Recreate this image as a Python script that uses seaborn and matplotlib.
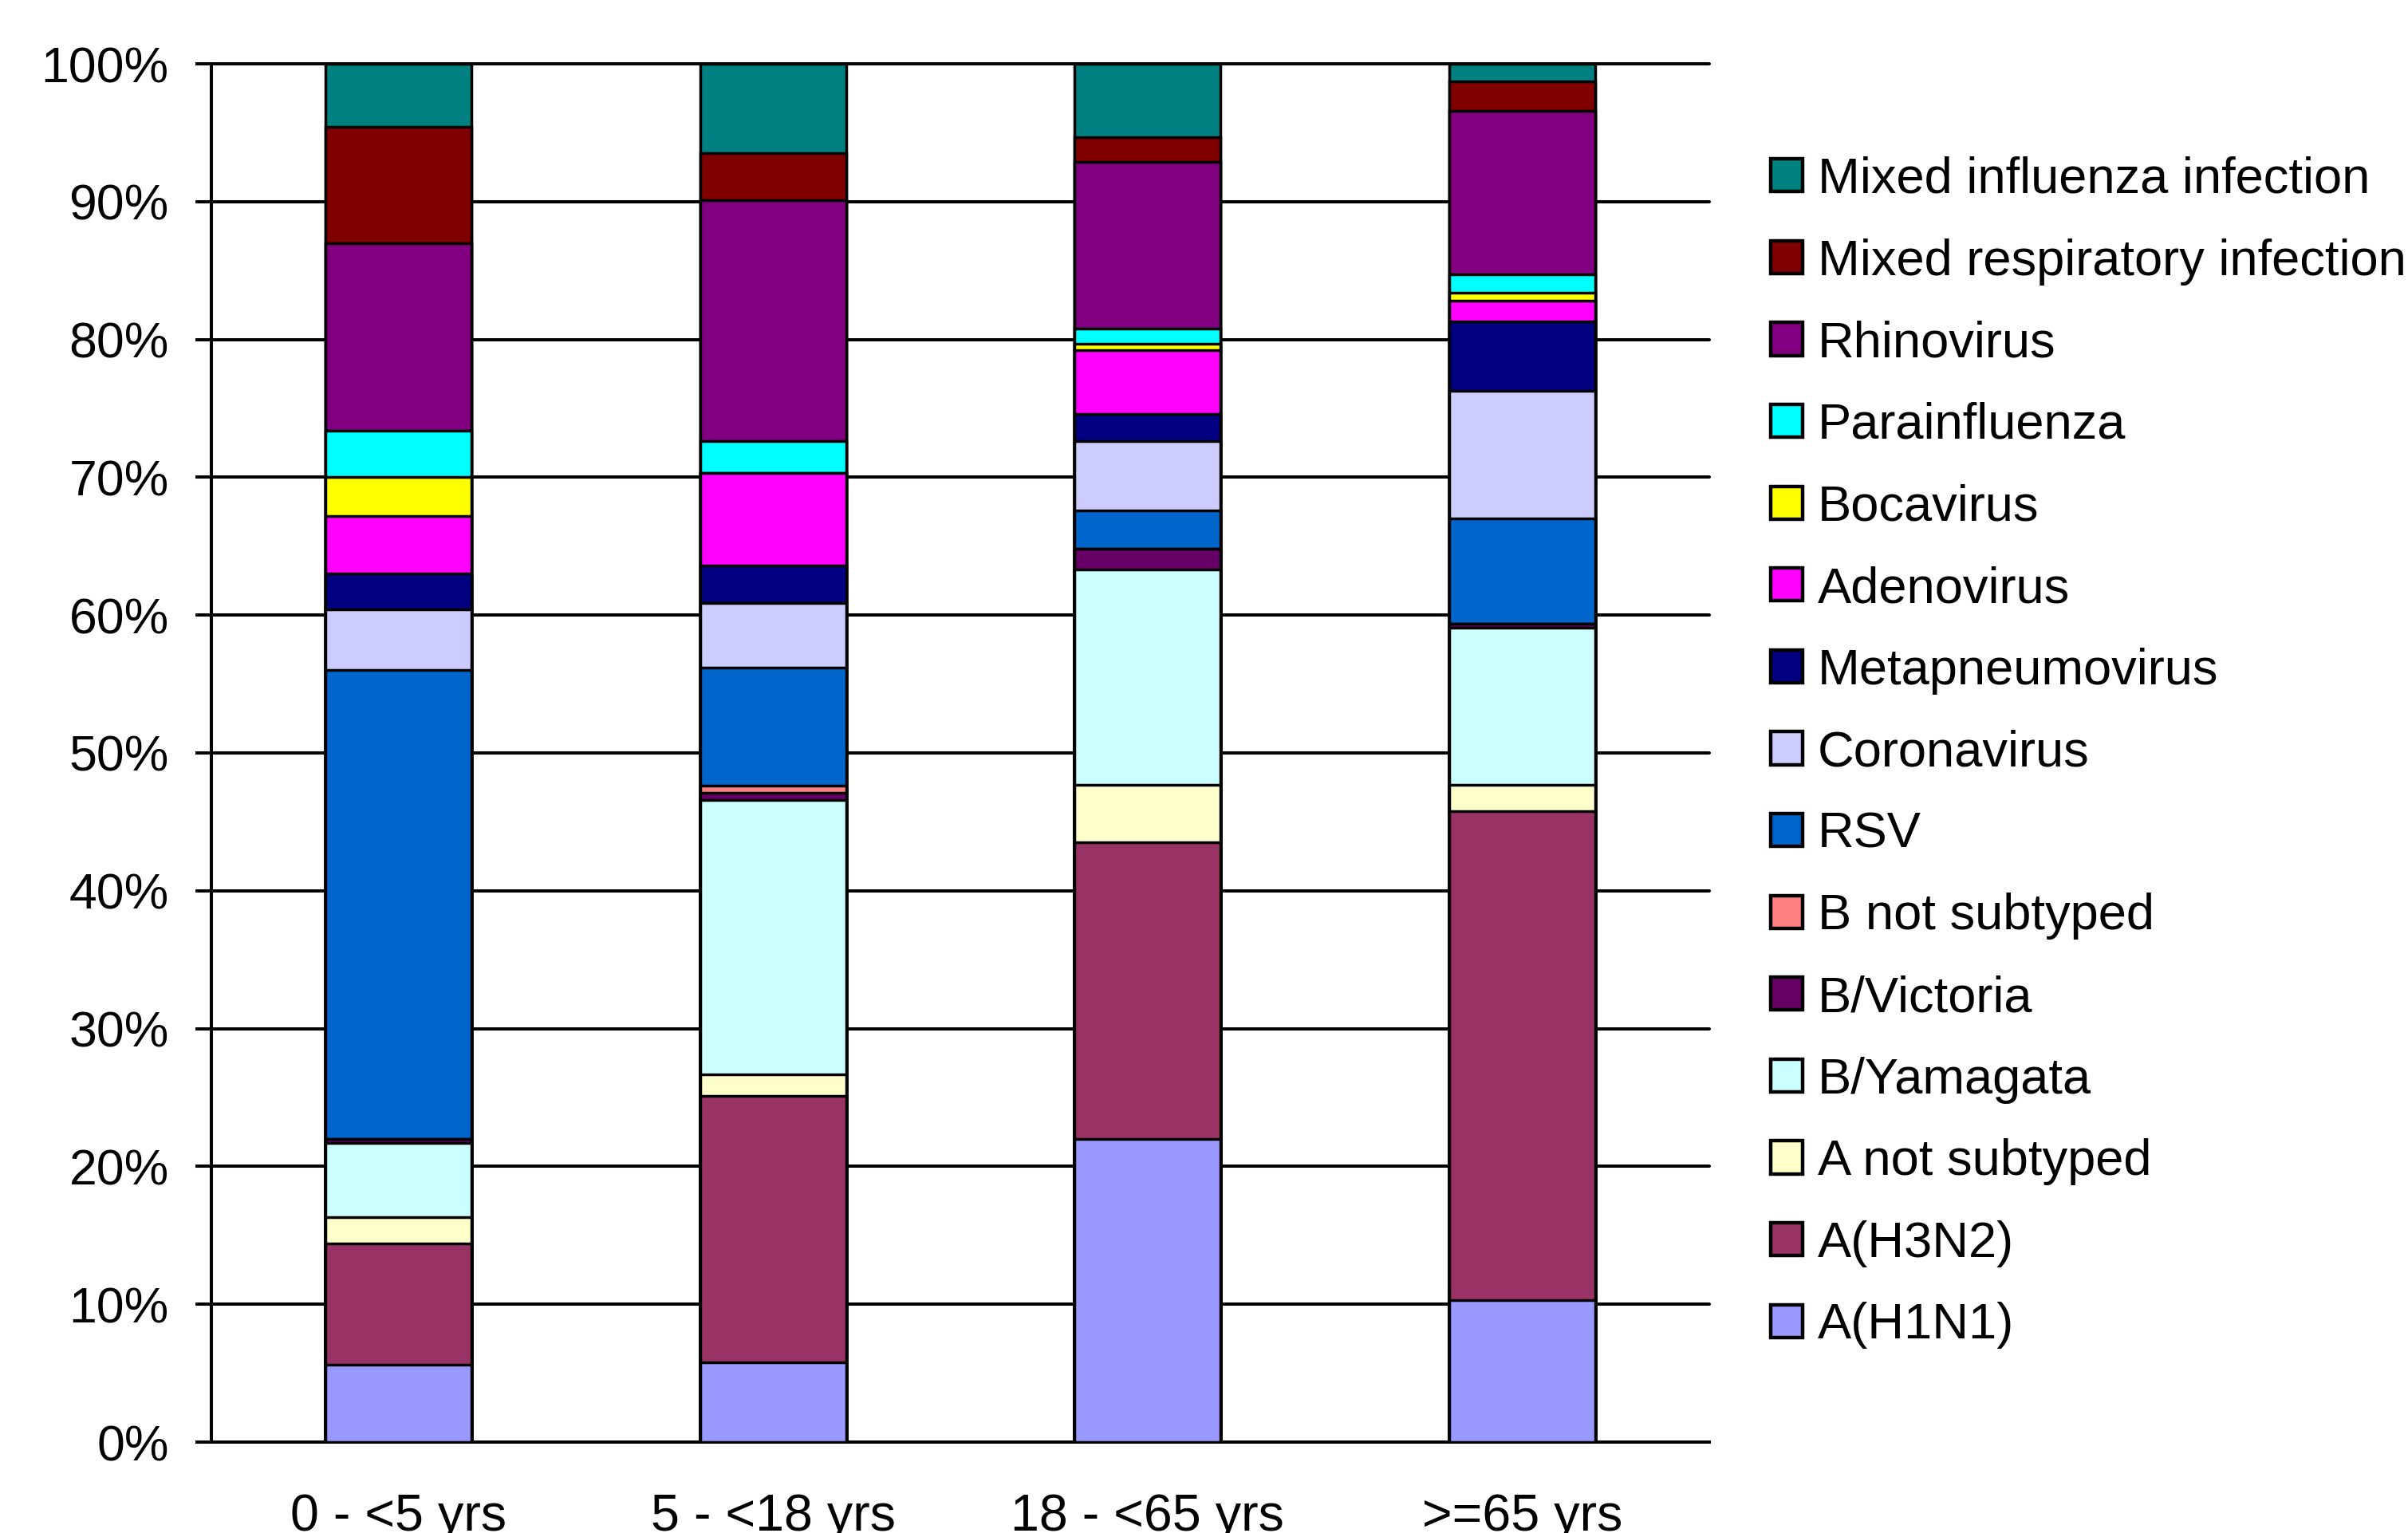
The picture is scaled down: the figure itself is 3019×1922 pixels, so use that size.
import matplotlib
matplotlib.use("Agg")
import matplotlib.pyplot as plt
from matplotlib.patches import Patch
import numpy as np
import pandas as pd
import seaborn as sns

# Age groups on the x axis
categories = ["0 - <5 yrs", "5 - <18 yrs", "18 - <65 yrs", ">=65 yrs"]

# Share of detections (%) per pathogen, stacked bottom to top
a_h1n1 = [5.6, 5.8, 22.0, 10.3]
a_h3n2 = [8.8, 19.3, 21.5, 35.5]
a_not_subtyped = [1.9, 1.6, 4.2, 1.9]
b_yamagata = [5.4, 19.9, 15.6, 11.4]
b_victoria = [0.3, 0.5, 1.5, 0.3]
b_not_subtyped = [0.0, 0.5, 0.0, 0.0]
rsv = [34.0, 8.6, 2.8, 7.6]
coronavirus = [4.4, 4.7, 5.0, 9.3]
metapneumovirus = [2.6, 2.7, 2.0, 5.0]
adenovirus = [4.2, 6.7, 4.6, 1.5]
bocavirus = [2.8, 0.0, 0.5, 0.6]
parainfluenza = [3.4, 2.3, 1.1, 1.3]
rhinovirus = [13.6, 17.5, 12.1, 11.9]
mixed_respiratory = [8.45, 3.4, 1.8, 2.1]
mixed_influenza = [4.55, 6.5, 5.3, 1.3]

series_names = ["A(H1N1)", "A(H3N2)", "A not subtyped", "B/Yamagata", "B/Victoria",
                "B not subtyped", "RSV", "Coronavirus", "Metapneumovirus", "Adenovirus",
                "Bocavirus", "Parainfluenza", "Rhinovirus", "Mixed respiratory infection",
                "Mixed influenza infection"]
series_values = [a_h1n1, a_h3n2, a_not_subtyped, b_yamagata, b_victoria, b_not_subtyped,
                 rsv, coronavirus, metapneumovirus, adenovirus, bocavirus, parainfluenza,
                 rhinovirus, mixed_respiratory, mixed_influenza]
series_colors = ["#9999FF", "#993366", "#FFFFCC", "#CCFFFF", "#660066", "#FF8080",
                 "#0066CC", "#CCCCFF", "#000080", "#FF00FF", "#FFFF00", "#00FFFF",
                 "#800080", "#800000", "#008080"]

ytick_values = list(range(0, 101, 10))
ytick_labels = [f"{v}%" for v in ytick_values]

sns.set_theme(style="white")
plt.rcParams["font.family"] = ["Liberation Sans", "DejaVu Sans"]
plt.rcParams["text.color"] = "black"
plt.rcParams["xtick.color"] = "black"
plt.rcParams["ytick.color"] = "black"

DPI = 100
fig = plt.figure(figsize=(30.19, 19.22), dpi=DPI)
ax = fig.add_axes([265 / 3019, 1 - 1808 / 1922, (2143 - 265) / 3019, (1808 - 80) / 1922])

df = pd.DataFrame({name: vals for name, vals in zip(series_names, series_values)},
                  index=categories)
cum = df.cumsum(axis=1)

# Draw cumulative totals from the top layer down so each lower layer covers the one above
for name, color in zip(reversed(series_names), reversed(series_colors)):
    sns.barplot(x=categories, y=cum[name].values, color=color, saturation=1,
                width=0.39, edgecolor="black", linewidth=2.5, errorbar=None,
                ax=ax, zorder=3)

LW = 2.9
ax.set_xlim(-0.5, 3.5)
ax.set_ylim(0, 100)
ax.set_yticks(ytick_values)
ax.set_yticklabels(ytick_labels, fontsize=45, color="black")
ax.yaxis.grid(True, color="black", linewidth=LW)
ax.xaxis.grid(False)
for gl in ax.get_ygridlines():
    gl.set_clip_on(False)
ax.set_axisbelow(True)

ax.set_xticks(range(len(categories)))
ax.set_xticklabels(categories, fontsize=46.5, color="black")
ax.set_xticks(np.arange(-0.5, len(categories), 1.0), minor=True)
ax.tick_params(axis="x", which="major", length=0, pad=46)
ax.tick_params(axis="x", which="minor", length=14, width=LW, color="black", direction="out")
ax.tick_params(axis="y", which="major", length=14.4, width=LW, color="black",
               direction="out", pad=24, left=True)
ax.set_xlabel("")
ax.set_ylabel("")

for side in ["top", "right"]:
    ax.spines[side].set_visible(False)
for side in ["left", "bottom"]:
    ax.spines[side].set_visible(True)
    ax.spines[side].set_color("black")
    ax.spines[side].set_linewidth(LW)

handles = [Patch(facecolor=c, edgecolor="black", linewidth=3.2, label=n)
           for n, c in zip(reversed(series_names), reversed(series_colors))]
fig.legend(handles=handles, loc="upper left", bbox_to_anchor=(2220 / 3019, 1 - 196 / 1922),
           frameon=False, fontsize=45.5, handlelength=0.63, handleheight=0.63,
           handletextpad=0.3, labelspacing=0.69, borderpad=0, borderaxespad=0,
           labelcolor="black")

fig.savefig("out.png", dpi=DPI, facecolor="white")
